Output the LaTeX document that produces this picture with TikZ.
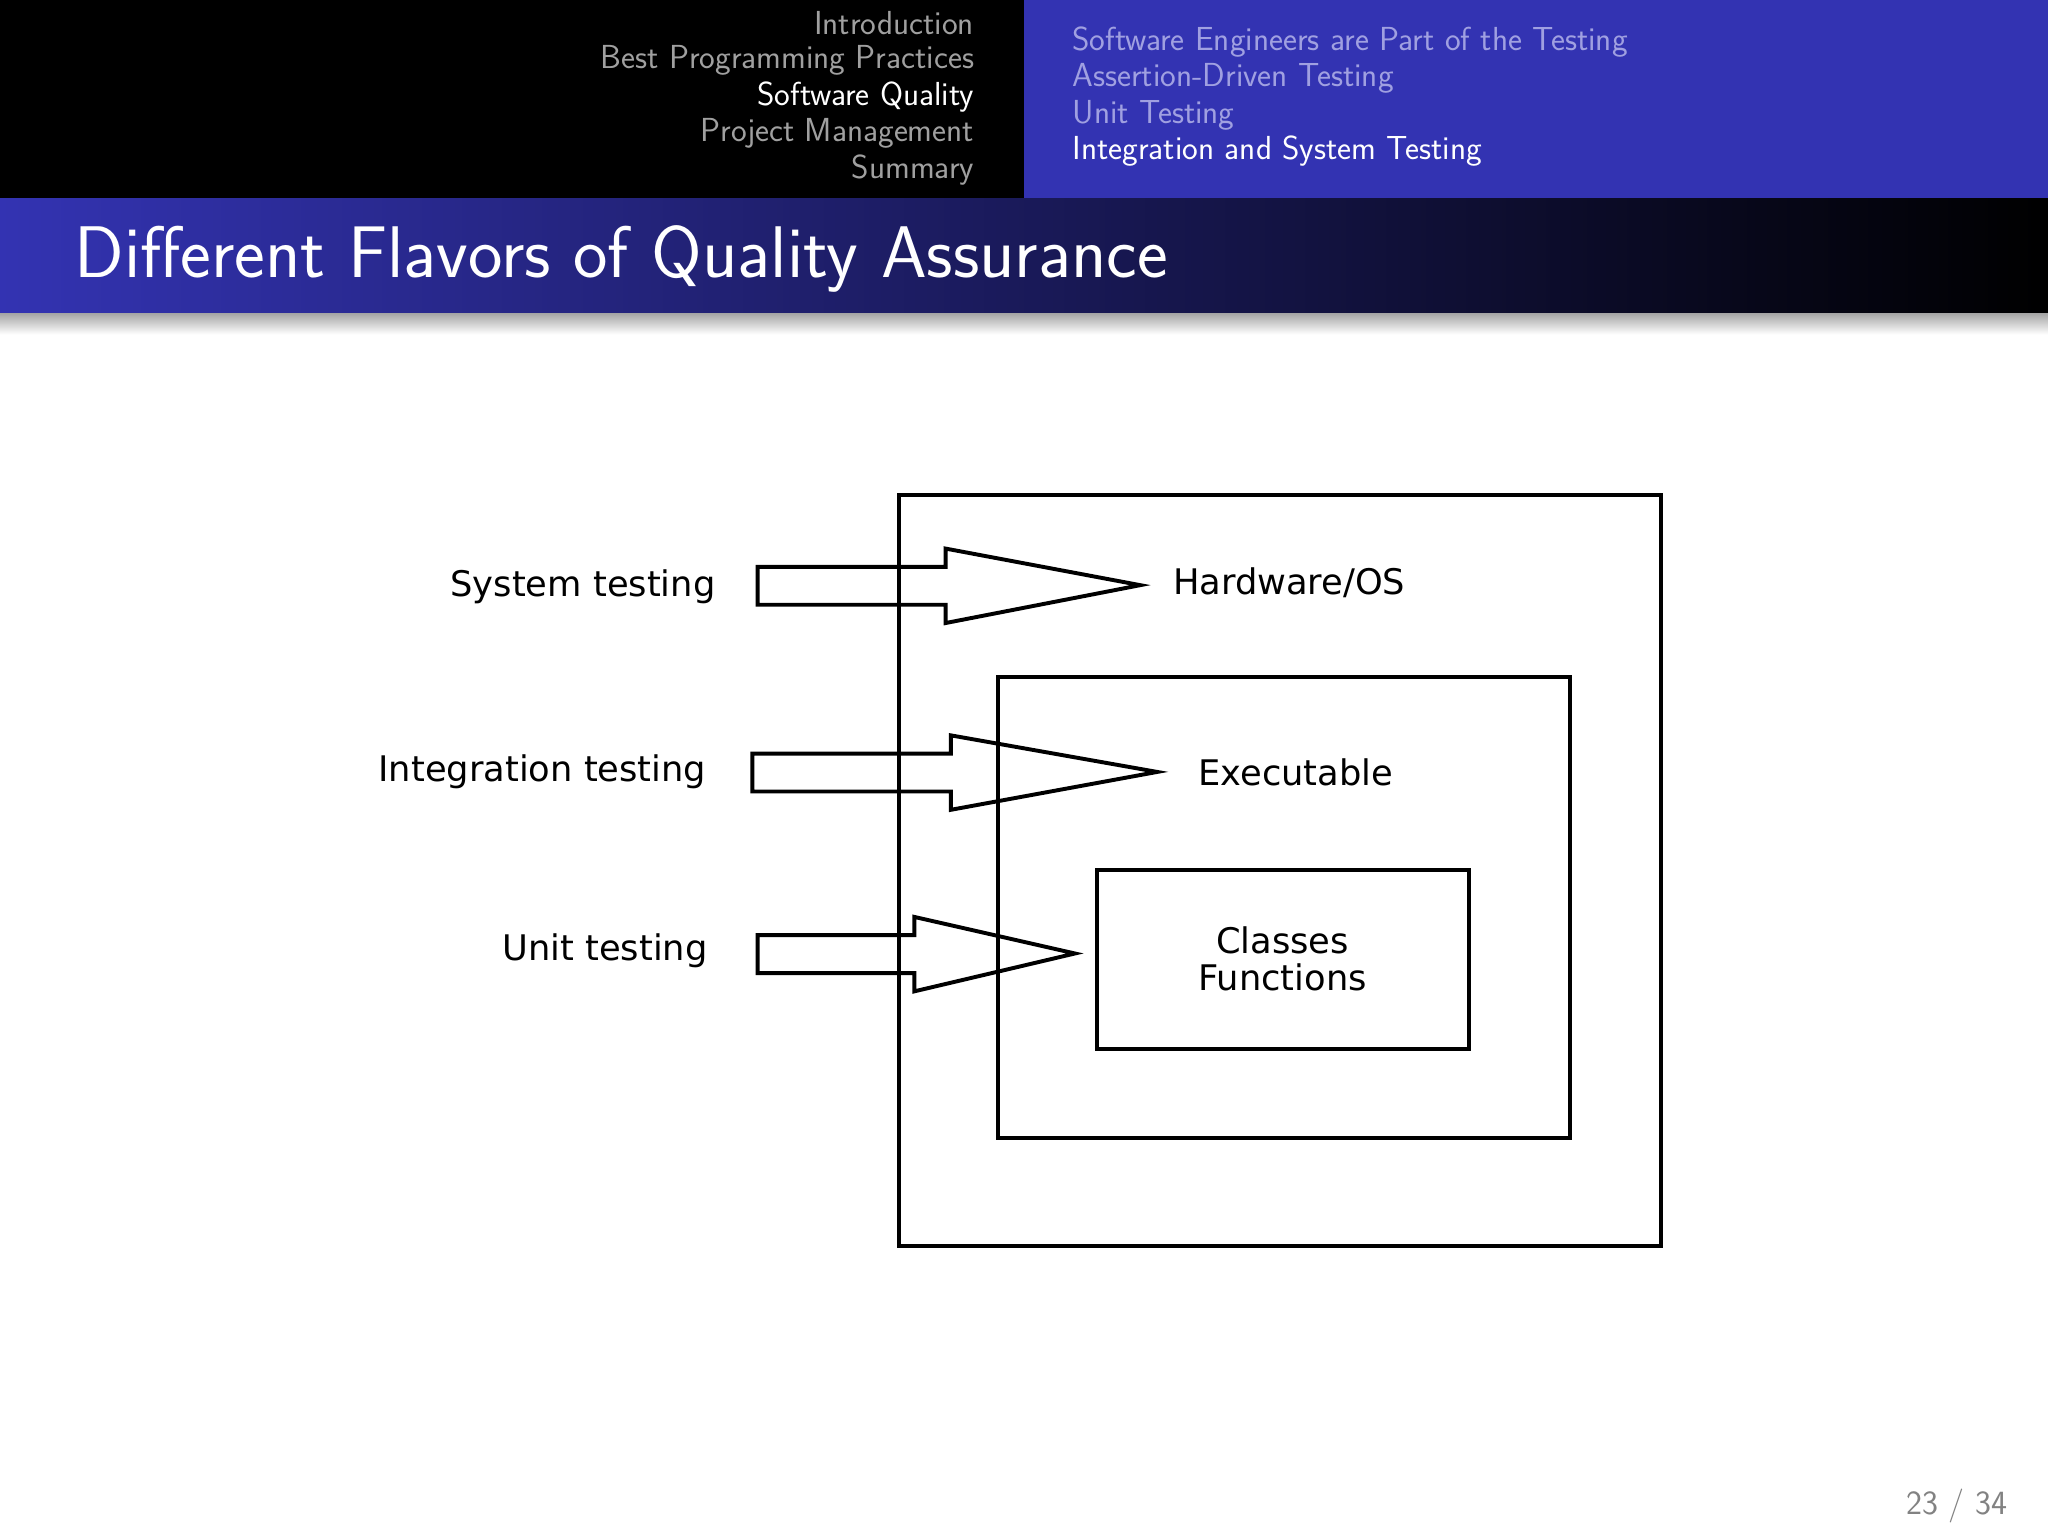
\documentclass[tikz,border=0pt]{standalone}
\usepackage{fontspec}
\newfontfamily\djvfont{DejaVu Sans}
\usetikzlibrary{shadings}
\definecolor{bblue}{RGB}{51,51,178}
\definecolor{hgray}{RGB}{160,160,160}
\definecolor{hblue}{RGB}{160,160,225}
\definecolor{pggray}{RGB}{130,130,130}
\begin{document}
\begin{tikzpicture}[x=1pt,y=-1pt,
  hd/.style={font=\sffamily\addfontfeatures{LetterSpace=11}\fontsize{25.5}{28}\selectfont, inner sep=0},
  lbl/.style={font=\djvfont\fontsize{27}{34}\selectfont, inner sep=0, align=center},
  bx/.style={draw, line width=3pt, inner sep=0},
  arr/.style={draw, line width=3pt, line join=miter}]
\useasboundingbox (0,0) rectangle (1568,1176);
\fill[white] (0,0) rectangle (1568,1176);
\fill[black] (0,0) rectangle (784,152);
\fill[bblue] (784,0) rectangle (1568,152);
\shade[left color=bblue, right color=black] (0,152) rectangle (1568,240);
\shade[top color=black!35, bottom color=white] (0,240) rectangle (1568,256);
% header
\node[hd, anchor=east, text=hgray] (h1) at (746,18) {Introduction};
\node[hd, anchor=east, text=hgray] (h2) at (746,46) {Best Programming Practices};
\node[hd, anchor=east, text=white] (h3) at (746,74) {Software Quality};
\node[hd, anchor=east, text=hgray] (h4) at (746,102) {Project Management};
\node[hd, anchor=east, text=hgray] (h5) at (746,130) {Summary};
\node[hd, anchor=west, text=hblue] (s1) at (821,32) {Software Engineers are Part of the Testing};
\node[hd, anchor=west, text=hblue] (s2) at (821,60) {Assertion-Driven Testing};
\node[hd, anchor=west, text=hblue] (s3) at (821,88) {Unit Testing};
\node[hd, anchor=west, text=white] (s4) at (821,116) {Integration and System Testing};
\node[anchor=west, inner sep=0, text=white, font=\sffamily\addfontfeatures{LetterSpace=5}\fontsize{56}{60}\selectfont] (title) at (57,198) {Different Flavors of Quality Assurance};
\node[anchor=east, inner sep=0, text=pggray, font=\sffamily\addfontfeatures{LetterSpace=8}\fontsize{26}{28}\selectfont] (pg) at (1537,1153) {23 / 34};
% boxes
\node[bx, minimum width=584, minimum height=575] (outer) at (980,666.5) {};
\node[bx, minimum width=438, minimum height=353] (mid) at (983,694.5) {};
\node[bx, minimum width=285, minimum height=137] (inner) at (982.5,734.5) {};
\node[lbl] (hw) at (987,446) {Hardware/OS};
\node[lbl] (ex) at (992,591) {Executable};
\node[lbl] (cf) at (982,734) {Classes\\[-6pt]Functions};
% arrows
\draw[arr] (580,434) -- (724,434) -- (724,420) -- (873,448) -- (724,477) -- (724,463) -- (580,463) -- cycle;
\draw[arr] (576,577) -- (728,577) -- (728,563) -- (886,591) -- (728,620) -- (728,606) -- (576,606) -- cycle;
\draw[arr] (580,716) -- (700,716) -- (700,702) -- (823,730) -- (700,759) -- (700,745) -- (580,745) -- cycle;
\node[lbl, anchor=east] (st) at (548,449) {System testing};
\node[lbl, anchor=east] (it) at (541,591) {Integration testing};
\node[lbl, anchor=east] (ut) at (542,728) {Unit testing};
\end{tikzpicture}
\end{document}
